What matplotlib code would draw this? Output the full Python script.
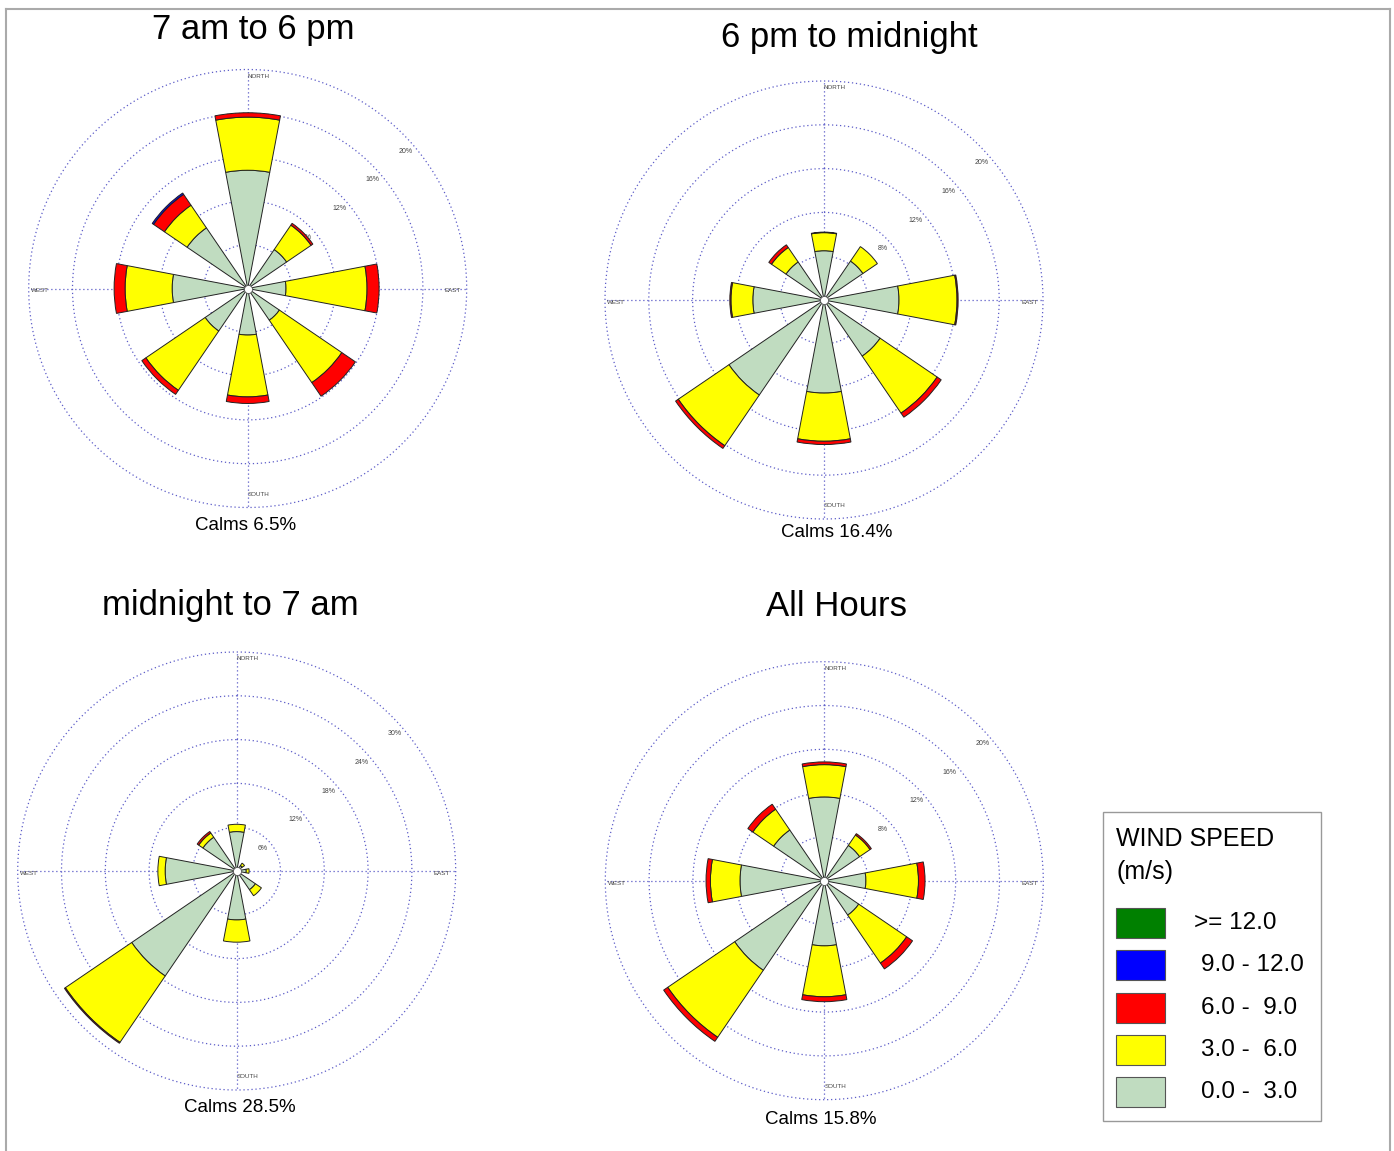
import numpy as np
import matplotlib
matplotlib.use("Agg")
import matplotlib.pyplot as plt
from matplotlib.patches import Rectangle
from matplotlib.lines import Line2D

plt.rcParams['font.family'] = ['Liberation Sans', 'DejaVu Sans']

W, H = 1394, 1151

directions = ['N', 'NE', 'E', 'SE', 'S', 'SW', 'W', 'NW']
dir_deg = [0, 45, 90, 135, 180, 225, 270, 315]

speed_labels = [">= 12.0", "9.0 - 12.0", "6.0 -  9.0", "3.0 -  6.0", "0.0 -  3.0"]
speed_colors = ['#008000', '#0000ff', '#ff0000', '#ffff00', '#c0dcc0']

# frequencies (%) per direction, stacked from slowest class outward
day_0_3 = [10.8, 4.3, 3.5, 3.5, 4.25, 4.7, 6.9, 6.7]
day_3_6 = [4.85, 2.7, 7.4, 6.9, 5.65, 6.55, 4.3, 2.5]
day_6_9 = [0.4, 0.2, 1.1, 1.5, 0.6, 0.45, 1.0, 1.2]
day_9_12 = [0, 0, 0, 0, 0, 0, 0, 0.15]

eve_0_3 = [4.5, 4.3, 6.85, 6.2, 8.5, 10.5, 6.5, 4.2]
eve_3_6 = [1.65, 1.6, 5.3, 6.3, 4.4, 5.6, 2.0, 1.6]
eve_6_9 = [0.05, 0, 0.1, 0.45, 0.3, 0.3, 0.1, 0.3]
eve_9_12 = [0, 0, 0, 0, 0, 0, 0, 0]

night_0_3 = [5.4, 0.9, 1.3, 3.1, 6.7, 17.4, 9.8, 5.6]
night_3_6 = [1.0, 0.4, 0.4, 1.0, 3.05, 11.0, 1.0, 0.7]
night_6_9 = [0, 0, 0, 0, 0, 0.15, 0, 0.25]
night_9_12 = [0, 0, 0, 0, 0, 0, 0, 0]

all_0_3 = [7.65, 3.9, 3.8, 3.8, 5.95, 9.9, 7.7, 5.6]
all_3_6 = [2.95, 1.15, 4.8, 5.3, 4.65, 7.4, 2.7, 2.3]
all_6_9 = [0.25, 0.15, 0.6, 0.65, 0.45, 0.45, 0.4, 0.55]
all_9_12 = [0, 0, 0, 0, 0, 0, 0, 0]

titles = ["7 am to 6 pm", "6 pm to midnight", "midnight to 7 am", "All Hours"]
calms = ["Calms 6.5%", "Calms 16.4%", "Calms 28.5%", "Calms 15.8%"]
ring_steps = [4, 4, 6, 4]

roses = [
    [day_0_3, day_3_6, day_6_9, day_9_12],
    [eve_0_3, eve_3_6, eve_6_9, eve_9_12],
    [night_0_3, night_3_6, night_6_9, night_9_12],
    [all_0_3, all_3_6, all_6_9, all_9_12],
]

# layout in pixels: centre x, centre y, radius, title y, calms y, title x, calms x
layout = [
    (247.7, 288.5, 219, 30, 525, 253, 246),
    (824.0, 300.0, 219, 37, 532, 849, 837),
    (236.7, 871.0, 219, 605, 1108, 230, 239.5),
    (824.3, 880.7, 219, 607, 1119, 836.5, 820.5),
]

grid_col = '#5c5cc8'
grid_ls = (0, (1, 2.2))
bar_width = np.radians(21.5)

fig = plt.figure(figsize=(W / 100, H / 100), dpi=100)

for i in range(4):
    cx, cy, rad, ty, cly, tx, clx = layout[i]
    step = ring_steps[i]
    rmax = step * 5
    ax = fig.add_axes([(cx - rad) / W, 1 - (cy + rad) / H, 2 * rad / W, 2 * rad / H],
                      projection='polar')
    ax.set_theta_zero_location('N')
    ax.set_theta_direction(-1)
    ax.set_ylim(0, rmax)
    ax.grid(False)
    ax.set_xticks([])
    ax.set_yticks([])
    ax.spines['polar'].set_visible(False)
    ax.set_facecolor('none')

    th = np.linspace(0, 2 * np.pi, 400)
    for k in range(1, 6):
        ax.plot(th, np.full_like(th, k * step), ls=grid_ls, color=grid_col,
                lw=0.9, clip_on=False, zorder=1)
        ax.text(np.radians(49), k * step - 0.22 * step, f"{k * step}%", fontsize=5,
                color='#444444', ha='center', va='center', zorder=1)
    for d in [0, 90, 180, 270]:
        ax.plot([np.radians(d)] * 2, [0, rmax], ls=grid_ls, color=grid_col,
                lw=0.9, clip_on=False, zorder=1)

    theta = np.radians(dir_deg)
    bottom = np.zeros(8)
    cols = ['#c0dcc0', '#ffff00', '#ff0000', '#0000ff']
    for vals, c in zip(roses[i], cols):
        v = np.array(vals, dtype=float)
        mask = v > 0
        ax.bar(theta[mask], v[mask], width=bar_width, bottom=bottom[mask], color=c,
               edgecolor='#222222', linewidth=0.7, zorder=3)
        bottom = bottom + v
    ax.scatter([0], [0], s=34, c='white', edgecolors='#555555', linewidths=0.6, zorder=5)

    ax.text(0, rmax * 0.97, "NORTH", fontsize=4.5, color='#444444', ha='left', va='center')
    ax.text(np.pi, rmax * 0.94, "SOUTH", fontsize=4.5, color='#444444', ha='left', va='center')
    ax.text(1.5 * np.pi, rmax * 0.99, "WEST", fontsize=4.5, color='#444444', ha='left', va='top')
    ax.text(0.5 * np.pi, rmax * 0.975, "EAST", fontsize=4.5, color='#444444', ha='right', va='top')

    fig.text(tx / W, 1 - ty / H, titles[i], fontsize=25, ha='center', va='center')
    fig.text(clx / W, 1 - cly / H, calms[i], fontsize=13.5, ha='center', va='center')

# legend box
fig.add_artist(Rectangle((1103 / W, 1 - 1121 / H), 218 / W, 309 / H, transform=fig.transFigure,
                         fill=False, edgecolor='#999999', lw=1.0))
fig.text(1116 / W, 1 - 839 / H, "WIND SPEED", fontsize=18, ha='left', va='center')
fig.text(1116 / W, 1 - 872 / H, "(m/s)", fontsize=18, ha='left', va='center')
row_y = [923, 965, 1008, 1050, 1092]
for lab, c, yy in zip(speed_labels, speed_colors, row_y):
    fig.add_artist(Rectangle((1116 / W, 1 - (yy + 15) / H), 49 / W, 30 / H,
                             transform=fig.transFigure, facecolor=c, edgecolor='#555555', lw=0.8))
    xl = 1194 if lab.startswith('>') else 1201
    fig.text(xl / W, 1 - yy / H, lab, fontsize=17.5, ha='left', va='center')

# outer frame
for xs, ys in [([6, 1390], [9, 9]), ([6, 6], [9, 1151]), ([1390, 1390], [9, 1151])]:
    fig.add_artist(Line2D([x / W for x in xs], [1 - y / H for y in ys], transform=fig.transFigure,
                          color='#aaaaaa', lw=1.5))

fig.savefig("out.png", dpi=100, facecolor='white')
